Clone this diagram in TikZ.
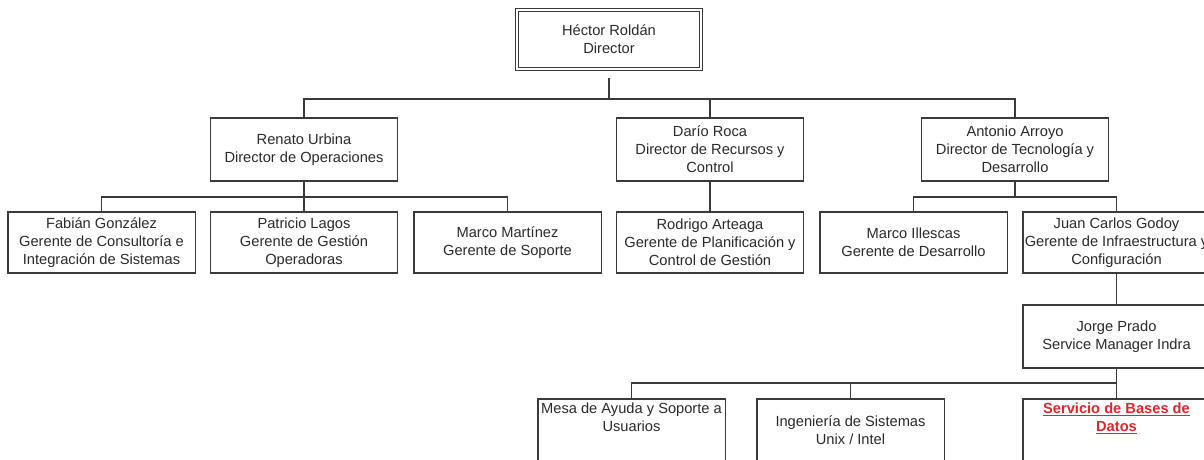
\documentclass[tikz,border=0pt]{standalone}
\usepackage{fontspec}
\setmainfont{Liberation Sans}
\definecolor{ln}{HTML}{3A3A3A}
\definecolor{tx}{HTML}{2A2A2A}
\definecolor{rd}{HTML}{E0262B}
\begin{document}
\begin{tikzpicture}[x=0.75pt,y=-0.75pt,
  box/.style={draw=ln,line width=0.8pt,minimum width=140.3pt,inner sep=1pt,align=center,text=tx,
    font=\fontsize{11}{13.5}\selectfont},
  boxa/.style={box,minimum height=47.25pt},
  boxb/.style={box,minimum height=45.75pt},
  boxc/.style={box,minimum height=46.5pt},
  dirbox/.style={box,double=white,double distance=1.5pt,line width=0.7pt,minimum width=138pt,minimum height=44.3pt},
  conn/.style={draw=ln,line width=0.8pt}]
\useasboundingbox (0,0) rectangle (1204,460);
\clip (0,0) rectangle (1204,460);
\fill[white] (0,0) rectangle (1204,460);

\node[dirbox] (dir) at (609,39.5) {Héctor Roldán\\Director};

\node[boxa] (ren) at (304,149.5) {Renato Urbina\\Director de Operaciones};
\node[boxa] (dar) at (710,149.5) {Darío Roca\\Director de Recursos y\\Control};
\node[boxa] (ant) at (1015,149.5) {Antonio Arroyo\\Director de Tecnología y\\Desarrollo};

\node[boxb] (fab) at (101.5,242.5) {Fabián González\\Gerente de Consultoría e\\Integración de Sistemas};
\node[boxb] (pat) at (304,242.5) {Patricio Lagos\\Gerente de Gestión\\Operadoras};
\node[boxb] (mm) at (507.5,242.5) {Marco Martínez\\Gerente de Soporte};
\node[boxb] (rod) at (710,242.5) {Rodrigo Arteaga\\Gerente de Planificación y\\Control de Gestión};
\node[boxb] (mi) at (913.5,242.5) {Marco Illescas\\Gerente de Desarrollo};
\node[boxb] (jcg) at (1116.5,242.5) {Juan Carlos Godoy\\Gerente de Infraestructura y\\Configuración};

\node[boxa] (jp) at (1116.5,336.5) {Jorge Prado\\Service Manager Indra};

\node[boxc] (mesa) at (631.5,430) {Mesa de Ayuda y Soporte a\\Usuarios\\[6pt]~};
\node[boxc] (ing) at (850.5,430) {Ingeniería de Sistemas\\Unix / Intel};
\node[boxc,text=rd,font=\fontsize{11}{13.5}\selectfont\bfseries] (sbd) at (1116.5,430) {\underline{Servicio de Bases de}\\\underline{Datos}\\[6pt]~};

\coordinate (b1) at (0,99);
\coordinate (b2) at (0,197);
\coordinate (b3) at (0,383);

\draw[conn] ([yshift=-6.5pt]dir.south) -- (dir.south |- b1);
\draw[conn] (ren.north) -- (ren.north |- b1) -- (ant.north |- b1) -- (ant.north);
\draw[conn] (dar.north) -- (dar.north |- b1);

\draw[conn] (ren.south) -- (pat.north);
\draw[conn] (fab.north) -- (fab.north |- b2) -- (mm.north |- b2) -- (mm.north);
\draw[conn] (dar.south) -- (rod.north);
\draw[conn] (ant.south) -- (ant.south |- b2);
\draw[conn] (mi.north) -- (mi.north |- b2) -- (jcg.north |- b2) -- (jcg.north);

\draw[conn] (jcg.south) -- (jp.north);
\draw[conn] (jp.south) -- (jp.south |- b3);
\draw[conn] (mesa.north) -- (mesa.north |- b3) -- (sbd.north |- b3) -- (sbd.north);
\draw[conn] (ing.north) -- (ing.north |- b3);
\end{tikzpicture}
\end{document}
